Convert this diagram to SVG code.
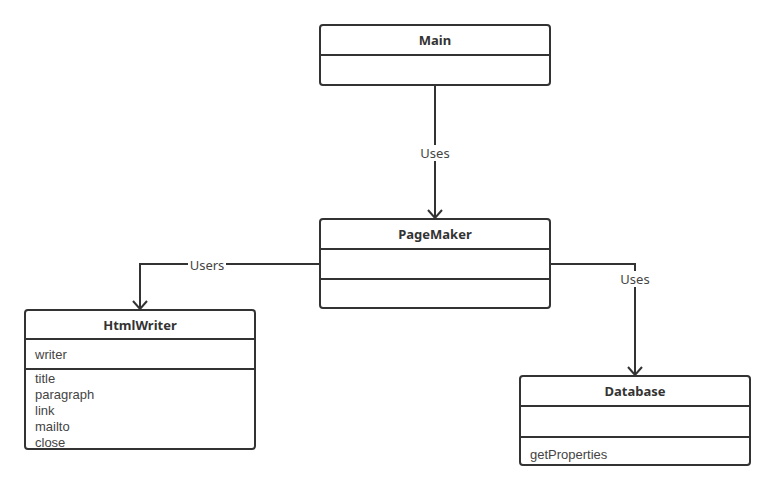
<svg xmlns="http://www.w3.org/2000/svg" width="775" height="491" viewBox="0 0 775 491">
<defs>
<marker id="arr" viewBox="0 0 20 20" refX="10" refY="10" markerWidth="20" markerHeight="20" markerUnits="userSpaceOnUse" orient="auto">
<path d="M2,3 L10,10 L2,17" fill="none" stroke="#333" stroke-width="2"/>
</marker>
<style>
.box{fill:#fff;stroke:#333;stroke-width:2}
.div{stroke:#333;stroke-width:2}
.t{font-family:"Noto Sans","Open Sans",sans-serif;font-size:13px;fill:#333;font-weight:bold;text-anchor:middle}
.a{font-family:"Liberation Sans","Noto Sans",sans-serif;font-size:13px;fill:#444}
.lbl{font-family:"Noto Sans","Open Sans",sans-serif;font-size:13px;fill:#444;text-anchor:middle}
.c{fill:none;stroke:#333;stroke-width:2}
</style>
</defs>
<rect width="775" height="491" fill="#fff"/>
<g id="connectors">
<path class="c" d="M435,85 L435,218" marker-end="url(#arr)"/>
<rect x="419" y="145" width="32" height="16" fill="#fff"/>
<text class="lbl" x="435" y="158">Uses</text>
<path class="c" d="M320,264 L140,264 L140,309" marker-end="url(#arr)"/>
<rect x="188" y="257" width="38" height="16" fill="#fff"/>
<text class="lbl" x="207" y="270">Users</text>
<path class="c" d="M550,264 L635,264 L635,375" marker-end="url(#arr)"/>
<rect x="619" y="271" width="32" height="16" fill="#fff"/>
<text class="lbl" x="635" y="284">Uses</text>
</g>
<g id="Main">
<rect class="box" x="320" y="25" width="230" height="60" rx="3"/>
<line class="div" x1="320" y1="55" x2="550" y2="55"/>
<text class="t" x="435" y="45">Main</text>
</g>
<g id="PageMaker">
<rect class="box" x="320" y="219" width="230" height="89" rx="3"/>
<line class="div" x1="320" y1="249" x2="550" y2="249"/>
<line class="div" x1="320" y1="279" x2="550" y2="279"/>
<text class="t" x="435" y="239">PageMaker</text>
</g>
<g id="HtmlWriter">
<rect class="box" x="25" y="310" width="230" height="139" rx="3"/>
<line class="div" x1="25" y1="339" x2="255" y2="339"/>
<line class="div" x1="25" y1="369" x2="255" y2="369"/>
<text class="t" x="140" y="330">HtmlWriter</text>
<text class="a" x="35" y="359">writer</text>
<text class="a" x="35" y="383">title</text>
<text class="a" x="35" y="399">paragraph</text>
<text class="a" x="35" y="415">link</text>
<text class="a" x="35" y="431">mailto</text>
<text class="a" x="35" y="447">close</text>
</g>
<g id="Database">
<rect class="box" x="520" y="376" width="230" height="89" rx="3"/>
<line class="div" x1="520" y1="406" x2="750" y2="406"/>
<line class="div" x1="520" y1="437" x2="750" y2="437"/>
<text class="t" x="635" y="396">Database</text>
<text class="a" x="530" y="459">getProperties</text>
</g>
</svg>
